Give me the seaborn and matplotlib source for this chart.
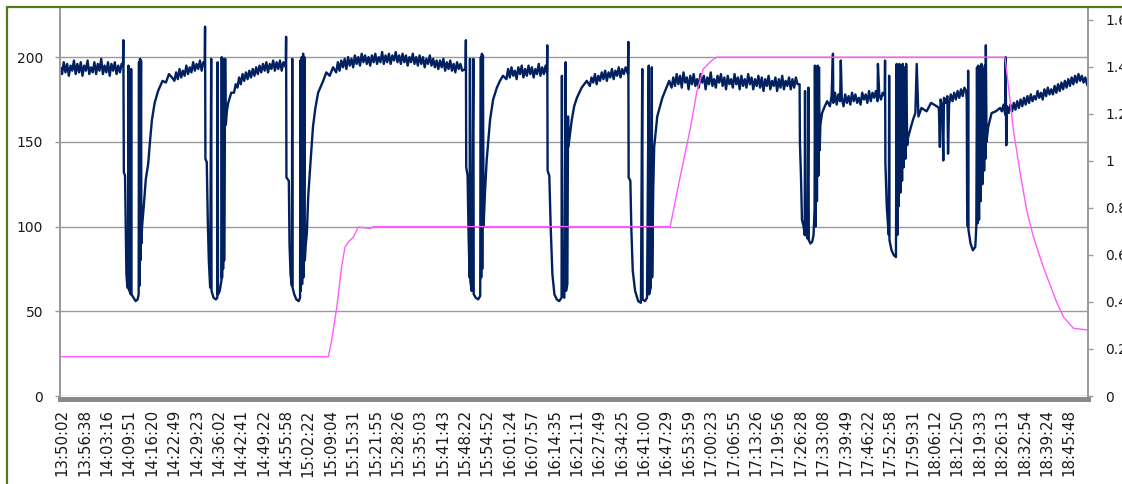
import matplotlib
matplotlib.use("Agg")
import numpy as np
import pandas as pd
import matplotlib.pyplot as plt
import matplotlib.patches as patches
import seaborn as sns

# ---- tick labels (category axis, evenly spaced) ----
time_labels = ["13:50:02", "13:56:38", "14:03:16", "14:09:51", "14:16:20", "14:22:49",
               "14:29:23", "14:36:02", "14:42:41", "14:49:22", "14:55:58", "15:02:22",
               "15:09:04", "15:15:31", "15:21:55", "15:28:26", "15:35:03", "15:41:43",
               "15:48:22", "15:54:52", "16:01:24", "16:07:57", "16:14:35", "16:21:11",
               "16:27:49", "16:34:25", "16:41:00", "16:47:29", "16:53:59", "17:00:23",
               "17:06:55", "17:13:26", "17:19:56", "17:26:28", "17:33:08", "17:39:49",
               "17:46:22", "17:52:58", "17:59:31", "18:06:12", "18:12:50", "18:19:33",
               "18:26:13", "18:32:54", "18:39:24", "18:45:48"]

# ---- navy series (left axis); minutes after 13:50:02 ----
# calm stretches, one reading every half minute
run_a = [194, 190, 197, 191, 196, 189, 195, 192, 198, 190, 196, 191, 197, 189, 195, 192, 198, 190,
         194, 191, 197, 190, 196, 192, 199, 190, 195, 191, 197, 189, 196, 192, 197, 190, 195, 191, 196]
run_b = [186, 191, 187, 193, 188, 192, 189, 195, 190, 194, 191, 197, 192, 196, 193, 198, 192, 197]
run_c = [179, 184, 182, 188, 184, 190, 186, 191, 187, 192, 188, 193, 189, 194, 190, 195, 191, 196,
         192, 197, 191, 196, 193, 198, 192, 197, 193, 198, 192, 197]
run_d = [191, 197, 192, 198, 194, 199, 193, 200, 195, 199, 194, 201, 196, 200, 195, 202, 197, 201,
         196, 200, 195, 201, 197, 202, 196, 200, 197, 203, 196, 201, 197, 202, 196, 201, 198, 203,
         197, 201, 196, 202, 197, 201, 195, 200, 197, 202, 196, 200, 195, 201, 196, 200, 194, 199,
         196, 201, 195, 199, 194, 198, 193, 198, 194, 199, 192, 197, 193, 198, 192, 196, 191, 197,
         193, 196, 192]
run_e = [187, 193, 188, 194, 189, 192, 187, 194, 190, 195, 188, 193, 189, 195, 190, 194, 188, 193,
         190, 196, 189, 194, 190, 195]
run_f = [183, 188, 185, 190, 184, 189, 186, 191, 187, 192, 186, 191, 188, 193, 187, 192, 189, 194,
         188, 193, 190, 194]
run_g = [182, 188, 183, 190, 184, 189, 182, 191, 185, 188, 181, 189, 184, 190, 183, 187, 182, 190,
         185, 189, 181, 188, 184, 191, 183, 187, 182, 189, 185, 190, 183, 188, 181, 189, 184, 187,
         182, 190, 184, 188, 181, 189, 183, 187, 182, 190, 184, 188, 181, 187, 183, 189, 182, 188,
         180, 187, 183, 189, 181, 186, 183, 188, 180, 187, 182, 189, 181, 186, 183, 188, 181, 187,
         182, 188, 184]
run_h = [171, 177, 173, 179, 172, 178, 174, 176, 171, 178, 173, 177, 172, 179, 174, 178, 173, 176,
         172, 179, 175, 178, 173, 180, 174, 179, 176, 180, 174, 178, 175, 179]
run_i = [170, 175, 171, 176, 173, 177, 172, 178, 174, 179, 175, 180, 176, 181, 177, 182]
run_j = [168, 172, 166, 171, 167, 172, 168, 173, 169, 174, 170, 175, 171, 176, 172, 177, 173, 178,
         174, 177, 175, 180, 176, 179, 175, 181, 177, 182, 178, 181, 178, 183, 179, 184, 180, 185,
         181, 186, 182, 187, 183, 188, 184, 189, 185, 190, 186, 189, 185, 188, 184, 182]
run_starts = [-0.5, 33, 50.5, 80.5, 130.5, 155, 179, 225.5, 257.5, 276]

# dips (minute, value)
dip1 = [(17.9, 195), (18.0, 210), (18.15, 132), (18.5, 130), (18.7, 100), (18.9, 72), (19.2, 64),
        (19.4, 64), (19.5, 195), (19.6, 63), (20.2, 60), (20.3, 193), (20.4, 60), (21.0, 58),
        (21.6, 56), (22.2, 57), (22.5, 60), (22.6, 197), (22.7, 65), (22.9, 199), (23.0, 80),
        (23.2, 198), (23.3, 90), (23.5, 100), (24.0, 112), (24.6, 128), (25.3, 137), (25.9, 152),
        (26.4, 163), (27.2, 173), (28.2, 180), (29.5, 186), (30.5, 185), (31.4, 190), (32.3, 188)]
dip2 = [(41.9, 197), (42.0, 218), (42.1, 140), (42.5, 138), (42.8, 104), (43.1, 80), (43.5, 64),
        (43.8, 199), (43.9, 62), (44.5, 58), (45.2, 57), (45.6, 58), (45.7, 197), (45.8, 60),
        (46.3, 62), (46.8, 68), (46.9, 200), (47.0, 70), (47.2, 199), (47.3, 75), (47.5, 198),
        (47.6, 80), (47.9, 199), (48.1, 160), (48.4, 168), (48.8, 173), (49.7, 179)]
dip3 = [(65.7, 194), (65.8, 212), (65.9, 129), (66.6, 127), (66.8, 90), (67.1, 72), (67.5, 65),
        (67.6, 199), (67.7, 64), (68.2, 60), (68.8, 57), (69.5, 56), (69.9, 58), (70.0, 198),
        (70.1, 62), (70.4, 200), (70.5, 66), (70.8, 202), (70.9, 70), (71.2, 200), (71.3, 80),
        (71.6, 90), (71.9, 96), (72.3, 118), (72.8, 133), (73.7, 159), (74.4, 170), (75.2, 179),
        (76.7, 186), (77.6, 191), (78.6, 189), (79.6, 194)]
dip4 = [(118.5, 193), (118.6, 210), (118.7, 135), (119.1, 130), (119.4, 94), (119.7, 70),
        (119.8, 199), (119.9, 68), (120.3, 62), (120.8, 199), (120.9, 60), (121.5, 58),
        (122.2, 57), (122.8, 59), (123.0, 200), (123.1, 70), (123.3, 202), (123.4, 75),
        (123.6, 201), (123.8, 100), (124.2, 120), (124.7, 139), (125.7, 163), (126.6, 175),
        (127.7, 182), (128.6, 186), (129.5, 189)]
dip5 = [(142.4, 191), (142.5, 207), (142.6, 133), (143.1, 130), (143.5, 100), (144.0, 72),
        (144.6, 60), (145.3, 57), (146.0, 56), (146.7, 58), (146.8, 189), (146.9, 60),
        (147.5, 58), (147.9, 197), (148.0, 62), (148.4, 66), (148.6, 165), (148.7, 147),
        (149.7, 163), (150.4, 171), (151.2, 176), (152.6, 182), (154.1, 186)]
dip6 = [(166.2, 190), (166.3, 209), (166.4, 129), (166.9, 127), (167.2, 98), (167.6, 74),
        (168.3, 62), (169.2, 56), (170.0, 55), (170.4, 193), (170.5, 57), (171.2, 56),
        (171.8, 58), (172.3, 195), (172.4, 60), (172.9, 64), (173.2, 194), (173.3, 70),
        (173.6, 120), (173.9, 147), (174.8, 165), (176.3, 176), (177.3, 181), (178.3, 186)]
dip7 = [(216.6, 184), (216.7, 149), (217.0, 130), (217.3, 104), (217.8, 100), (218.1, 95),
        (218.2, 180), (218.3, 97), (218.9, 93), (219.2, 182), (219.3, 92), (219.8, 90),
        (220.3, 91), (220.7, 95), (221.0, 110), (221.1, 195), (221.3, 100), (221.5, 193),
        (221.7, 115), (221.9, 195), (222.1, 130), (222.3, 194), (222.5, 145), (222.7, 160),
        (223.2, 167), (224.0, 171), (224.7, 174)]
dip8 = [(241.6, 177), (241.7, 198), (241.8, 137), (242.2, 112), (242.6, 100), (242.8, 95),
        (242.9, 189), (243.0, 92), (243.6, 86), (244.3, 83), (244.9, 82), (245.1, 196),
        (245.3, 95), (245.5, 195), (245.7, 112), (245.9, 196), (246.2, 120), (246.4, 195),
        (246.7, 127), (246.9, 196), (247.2, 135), (247.4, 194), (247.7, 140), (247.9, 196),
        (248.2, 148), (248.5, 153), (249.9, 163), (250.6, 167), (251.5, 165), (252.4, 170),
        (253.9, 168), (255.2, 173), (256.9, 171)]
dip9 = [(265.5, 180), (265.7, 175), (265.8, 114), (266.0, 100), (266.1, 192), (266.2, 98),
        (266.8, 90), (267.5, 86), (268.2, 88), (268.5, 100), (268.7, 194), (268.9, 102),
        (269.1, 195), (269.3, 104), (269.5, 194), (269.8, 115), (270.0, 196), (270.3, 125),
        (270.5, 193), (270.8, 133), (271.0, 195), (271.2, 140), (271.3, 207), (271.5, 150),
        (272.0, 159), (273.0, 167), (274.2, 168), (275.5, 170)]
# isolated spikes / short drops
spikes = [(226.4, 202), (228.7, 198), (239.6, 196), (251.0, 196), (257.8, 147),
          (258.8, 139), (260.2, 143), (277.1, 200), (277.3, 148)]

# ---- magenta series (right axis) ----
pink_t = [-0.5, 78.2, 79.2, 80.7, 82.1, 83.1, 84.1, 85.6, 87.0, 90.5, 91.5, 178.6, 181.5, 184.4,
          186.4, 188.3, 190.8, 192.3, 276.9, 277.4, 279.4, 281.4, 283.3, 285.3, 288.2, 292.2,
          294.1, 297.0, 301.4]
pink_v = [0.167, 0.167, 0.238, 0.379, 0.549, 0.633, 0.655, 0.676, 0.718, 0.712, 0.72, 0.72, 0.93,
          1.129, 1.291, 1.39, 1.426, 1.44, 1.44, 1.383, 1.129, 0.946, 0.789, 0.675, 0.547, 0.395,
          0.336, 0.288, 0.28]


def cargar_serie():
    runs = [run_a, run_b, run_c, run_d, run_e, run_f, run_g, run_h, run_i, run_j]
    pts = []
    for start, vals in zip(run_starts, runs):
        pts += [(start + 0.5 * i, v) for i, v in enumerate(vals)]
    for d in [dip1, dip2, dip3, dip4, dip5, dip6, dip7, dip8, dip9, spikes]:
        pts += d
    df = pd.DataFrame(pts, columns=["t", "v"]).sort_values("t")
    return df


def minutos(lbl):
    h, m, s = [int(p) for p in lbl.split(":")]
    return h * 60 + m + s / 60.0


sns.set_theme(style="white")
plt.rcParams["font.family"] = ["DejaVu Sans"]
plt.rcParams["font.size"] = 10

navy = cargar_serie()
pink = pd.DataFrame({"t": pink_t, "v": pink_v})

fig = plt.figure(figsize=(11.22, 4.84), dpi=100)
ax = fig.add_axes([60 / 1122, 1 - 396 / 484, 1028 / 1122, 388 / 484])
ax2 = ax.twinx()

sns.lineplot(data=navy, x="t", y="v", ax=ax, color="#002060", lw=1.7, estimator=None)
sns.lineplot(data=pink, x="t", y="v", ax=ax2, color="#ff5cff", lw=1.0, estimator=None)

span = minutos(time_labels[-1]) - minutos(time_labels[0])
ax.set_xlim(-0.6, 301.3)
ax.set_xticks(np.linspace(0, span, len(time_labels)))
ax.set_xticklabels(time_labels)

ax.set_ylim(0, 229)
ax.set_yticks([0, 50, 100, 150, 200])
ax2.set_ylim(0, 1.649)
ax2.set_yticks([0, 0.2, 0.4, 0.6, 0.8, 1.0, 1.2, 1.4, 1.6])
ax2.set_yticklabels(["0", "0.2", "0.4", "0.6", "0.8", "1", "1.2", "1.4", "1.6"])

ax.grid(axis="y", color="#9a9a9a", lw=1.0)
ax.set_axisbelow(True)
for a in (ax, ax2):
    a.set_xlabel("")
    a.set_ylabel("")
    a.spines["top"].set_visible(False)
    a.spines["left"].set_color("#9a9a9a")
    a.spines["right"].set_color("#9a9a9a")
    a.spines["bottom"].set_visible(False)
ax.spines["bottom"].set_visible(True)
ax.spines["bottom"].set_color("#8a8a8a")
ax.spines["bottom"].set_linewidth(3.6)
ax.spines["bottom"].set_position(("outward", 2))

ax.tick_params(axis="x", length=0, pad=7.5, labelsize=10.8, labelcolor="#1a1a1a",
               labelrotation=90)
ax.tick_params(axis="y", left=True, length=3.6, width=1, color="#9a9a9a", pad=8.5,
               labelsize=10, labelcolor="#1a1a1a")
ax2.tick_params(axis="y", right=True, length=3.6, width=1, color="#9a9a9a", pad=9,
                labelsize=10, labelcolor="#1a1a1a")

# green chart border (only left and top are inside the picture)
fig.patches.append(patches.Rectangle((6.5 / 1122, -0.5), 2.0, 1.5 - 7 / 484,
                                     transform=fig.transFigure, fill=False,
                                     edgecolor="#4e7a1c", lw=1.6))

fig.savefig("out.png", dpi=100)
